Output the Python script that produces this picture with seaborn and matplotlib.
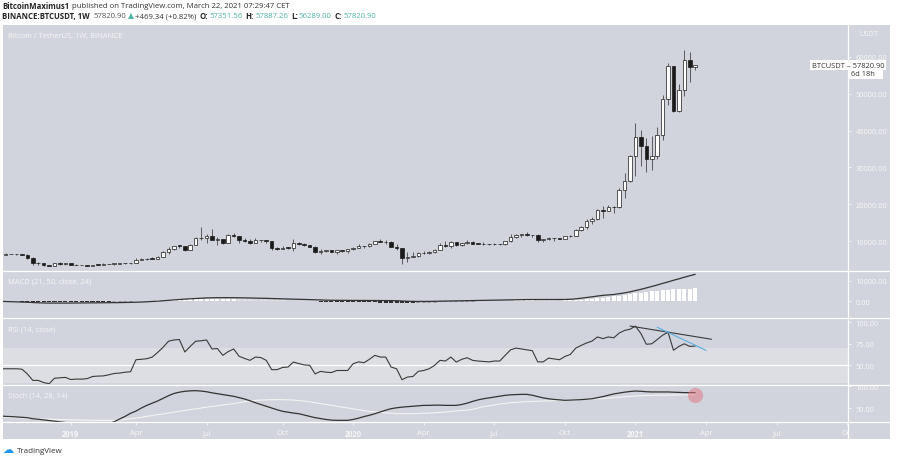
import matplotlib
matplotlib.use("Agg")
import matplotlib.pyplot as plt
from matplotlib.patches import Rectangle
from matplotlib.lines import Line2D
import numpy as np
import pandas as pd
import seaborn as sns

W, H = 898, 460

# weekly BTCUSDT candles, first bar = week of 2018-10-08
first_week = "2018-10-08"
opens = [6620, 6390, 6530, 6470, 6420, 6380, 5550, 4010, 4130, 3520,
         3250, 3970, 3850, 4040, 3540, 3540, 3530, 3410, 3660, 3610,
         3830, 3860, 3910, 3990, 3970, 4120, 5040, 5070, 5300, 5200,
         5710, 6970, 8000, 8740, 8730, 7640, 8990, 10850, 10800, 11480,
         10200, 10540, 9520, 11800, 11390, 10230, 10140, 9600, 10390, 10300,
         9990, 8050, 7870, 8280, 8220, 9550, 9200, 9030, 8500, 7050,
         7400, 7500, 7100, 7500, 7380, 7760, 8180, 8670, 8600, 9370,
         10150, 9900, 9660, 8530, 8030, 5360, 5820, 5880, 6770, 6900,
         7120, 7700, 8900, 8720, 9680, 8900, 9450, 9740, 9380, 9290,
         9120, 9230, 9300, 9160, 9940, 11100, 11680, 11850, 11650, 11660,
         10260, 10680, 10920, 10770, 10660, 11370, 11500, 13030, 13800, 15480,
         15960, 18410, 18180, 19370, 19280, 23780, 26440, 33000, 38150, 35790,
         32260, 33090, 38880, 48580, 57400, 45240, 50970, 59020, 57350]
highs = [6720, 6900, 6600, 6540, 6600, 6500, 5600, 4440, 4220, 3650,
         4210, 4240, 4100, 4100, 3800, 3650, 3540, 3680, 3720, 4200,
         3900, 3920, 4010, 4090, 4150, 5370, 5470, 5370, 5620, 5900,
         7450, 8370, 8800, 9090, 8820, 9350, 11200, 13970, 12000, 13200,
         11100, 10650, 12000, 12320, 11450, 10950, 10650, 10900, 10450, 10360,
         10050, 8520, 8800, 8400, 10550, 9900, 9500, 9100, 8600, 7850,
         7750, 7600, 7550, 7700, 7800, 8470, 9200, 8800, 9550, 10170,
         10500, 10200, 9970, 9190, 8180, 6950, 6990, 7200, 7470, 7300,
         7780, 9460, 10070, 9950, 9900, 9600, 10420, 9950, 9600, 9790,
         9350, 9500, 9320, 9950, 12000, 11900, 12000, 12470, 11750, 12090,
         10700, 11100, 10950, 10950, 11500, 11700, 13350, 14100, 15950, 16480,
         18800, 19420, 19900, 19440, 24300, 28400, 33300, 41950, 40100, 37850,
         38530, 40950, 49700, 58350, 57500, 52640, 61840, 61180, 57890]
lows = [6150, 6380, 6420, 6250, 6340, 5200, 3650, 3650, 3280, 3150,
        3230, 3550, 3650, 3500, 3490, 3450, 3370, 3370, 3560, 3600,
        3730, 3680, 3830, 3900, 3950, 4100, 4950, 5010, 5150, 5150,
        5610, 6600, 7500, 8100, 7440, 7600, 8900, 10300, 9620, 10800,
        9070, 9200, 9400, 11200, 9460, 9900, 9320, 9580, 9900, 9600,
        7700, 7710, 7780, 7900, 7300, 8900, 8700, 8450, 6800, 6500,
        7200, 6950, 6450, 7100, 6850, 7700, 8100, 8250, 8530, 9150,
        9700, 9300, 8400, 7650, 3780, 4450, 5680, 5850, 6500, 6460,
        6800, 7650, 8370, 8210, 8810, 8630, 9280, 9350, 9200, 8990,
        8890, 9050, 9050, 9100, 9880, 10930, 11150, 11450, 11250, 9880,
        9880, 10200, 10130, 10500, 10530, 11200, 11400, 12900, 13290, 14800,
        15780, 16200, 18100, 17600, 19000, 21800, 26000, 27730, 30420, 28850,
        29240, 32300, 37370, 47000, 44900, 44950, 49270, 53270, 56290]
closes = [6390, 6530, 6470, 6420, 6380, 5550, 4010, 4130, 3520, 3250,
          3970, 3850, 4040, 3540, 3540, 3530, 3410, 3660, 3610, 3830,
          3860, 3910, 3990, 3970, 4120, 5040, 5070, 5300, 5200, 5710,
          6970, 8000, 8740, 8730, 7640, 8990, 10850, 10800, 11480, 10200,
          10540, 9520, 11800, 11390, 10230, 10140, 9600, 10390, 10300, 9990,
          8050, 7870, 8280, 8220, 9550, 9200, 9030, 8500, 7050, 7400,
          7500, 7100, 7500, 7380, 7760, 8180, 8670, 8600, 9370, 10150,
          9900, 9660, 8530, 8030, 5360, 5820, 5880, 6770, 6900, 7120,
          7700, 8900, 8720, 9680, 8900, 9450, 9740, 9380, 9290, 9120,
          9230, 9300, 9160, 9940, 11100, 11680, 11850, 11650, 11660, 10260,
          10680, 10920, 10770, 10660, 11370, 11500, 13030, 13800, 15480, 15960,
          18410, 18180, 19370, 19280, 23780, 26440, 33000, 38150, 35790, 32260,
          33090, 38880, 48580, 57400, 45240, 50970, 59020, 57350, 57820]

# indicator readings, one per weekly bar
macd_line = [0, -80, -160, -250, -350, -450, -600, -720, -800, -850,
             -870, -870, -860, -840, -820, -800, -780, -760, -740, -720,
             -690, -660, -620, -580, -540, -450, -350, -220, -80, 80,
             280, 500, 720, 920, 1080, 1220, 1380, 1530, 1650, 1720,
             1760, 1780, 1780, 1760, 1720, 1670, 1620, 1560, 1500, 1440,
             1350, 1260, 1190, 1120, 1060, 990, 910, 820, 720, 630,
             560, 510, 480, 470, 460, 450, 440, 420, 410, 410,
             410, 390, 350, 290, 140, 40, -20, -60, -60, -30,
             20, 80, 140, 200, 250, 300, 350, 400, 440, 480,
             520, 560, 600, 650, 720, 790, 840, 860, 860, 840,
             820, 810, 820, 850, 900, 1000, 1200, 1500, 1850, 2200,
             2600, 2900, 3100, 3300, 3700, 4100, 4600, 5200, 5800, 6500,
             7200, 7900, 8700, 9400, 10200, 10900, 11700, 12400, 13100]
macd_hist = [-20, -40, -60, -80, -100, -120, -150, -180, -200, -220,
             -240, -260, -290, -320, -350, -380, -410, -440, -470, -500,
             -520, -450, -350, -250, -120, 50, 150, 250, 350, 450,
             550, 650, 750, 820, 860, 900, 940, 980, 1000, 1020,
             1040, 1060, 1100, 1120, 1050, 980, 900, 820, 740, 660,
             580, 500, 420, 350, 280, 210, 140, 70, -20, -100,
             -180, -250, -320, -380, -430, -470, -500, -520, -540, -560,
             -580, -600, -620, -640, -800, -900, -950, -880, -800, -720,
             -640, -560, -480, -400, -320, -250, -180, -120, -70, -30,
             -10, 20, 60, 150, 280, 420, 540, 620, 660, 600,
             520, 450, 400, 380, 420, 520, 650, 800, 1000, 1250,
             1550, 1850, 2150, 2450, 2800, 3150, 3500, 3850, 4200, 4500,
             4800, 5050, 5300, 5550, 5750, 5900, 6050, 6150, 6250]
rsi = [46, 46, 46, 46, 45.5, 40, 32.5, 32.5, 30, 28.6,
       35, 35.5, 36, 33.5, 34, 34, 34.5, 37, 37.5, 37.7,
       39, 40.5, 41, 42, 42.5, 56.5, 57, 57.7, 59.6, 65,
       71, 78, 79.5, 80, 65.5, 72, 78, 78.5, 79.5, 69,
       69.5, 61.6, 66, 69, 60.5, 58, 55.8, 59.6, 59, 55.8,
       45, 45, 47.5, 48, 53.8, 52, 50.5, 50, 40, 43,
       42, 41.6, 44, 44, 44, 51.9, 54, 53, 57, 61.6,
       59.6, 59.6, 48, 46, 33.3, 36.4, 37, 43, 44, 46,
       50, 55.8, 55, 59.6, 53.8, 57, 58.8, 55.8, 55, 54.5,
       54, 55, 55, 61.6, 68, 70, 69, 68, 67, 54,
       54, 58.4, 57.5, 56.5, 60.3, 62.6, 70, 73.2, 76, 78.2,
       83, 81, 83, 82, 87.5, 90.6, 92, 95.5, 87, 74.5,
       75, 80, 85, 88.4, 67.5, 72, 75, 72, 72.4]
stoch_k = [32, 31, 30.5, 29.7, 29, 28, 25.7, 24.5, 23, 21.5,
           20, 18.5, 17, 14, 11, 8, 6, 5, 6, 9,
           14, 19, 25, 31, 38, 43, 50, 56, 61, 66,
           72, 78, 83, 86, 88, 89, 89.4, 88.5, 87, 84.5,
           82.5, 80.5, 78.5, 76.6, 73.5, 70.5, 66.5, 62, 58, 54,
           50, 46, 42.5, 40.5, 38.5, 37, 34, 31, 28, 26,
           24, 22.5, 22, 22, 22, 24, 27, 30.5, 33.5, 37,
           41, 45, 48.5, 50.5, 52, 53, 54, 55, 56, 56,
           56.5, 56.5, 56, 56, 56, 58, 61, 65, 68.5, 71,
           73, 75, 77, 78.8, 80, 80.5, 81, 81, 79, 76,
           73, 71, 69.5, 68.5, 67.5, 68, 68.5, 69, 70, 71,
           73.5, 76, 79, 82, 84, 86, 87.5, 88.6, 88, 87,
           86.5, 86.4, 86.5, 86.5, 86, 85.5, 85, 85, 85]
stoch_d = [29.5, 29, 28.5, 28, 27, 26.5, 26, 25.5, 25, 24.5,
           24, 23.6, 23.4, 23, 22.7, 22.4, 22.2, 22, 22, 22,
           22, 22, 23, 24.3, 25.5, 27, 29, 31, 33, 35,
           36.5, 38.5, 40.5, 42.5, 44.5, 46.5, 48, 50, 52, 53.5,
           55, 57, 58.5, 60, 62, 64, 65.5, 67.5, 68, 68.5,
           69, 69, 69, 68.5, 68, 67, 65.5, 64, 62, 60,
           58, 56, 54, 52, 50, 48, 46, 44, 42.5, 41,
           40, 39, 38, 37, 37, 37, 37, 37.5, 38, 38.5,
           39, 40, 41, 42, 43.5, 44.5, 45, 47, 50, 53,
           55, 57, 59, 60.5, 62, 63, 63.6, 64.5, 65, 65.5,
           66, 66.5, 67, 67.3, 67.5, 68, 68.5, 69, 69.5, 70,
           71, 71.5, 72.5, 73.4, 74.5, 75.5, 76.5, 77, 78, 78.5,
           78.8, 79, 79.2, 79.5, 79.7, 79.8, 80, 80, 80]

# drawn RSI trend lines
rsi_trend_dates = ["2020-12-28", "2021-04-12"]
rsi_trend_vals = [95.7, 80.3]
rsi_trend2_dates = ["2021-02-01", "2021-04-05"]
rsi_trend2_vals = [94.2, 67.4]

price_ticks = [10000, 20000, 30000, 40000, 50000, 60000]
time_ticks = ["2019-01-07", "2019-04-01", "2019-07-01", "2019-10-07", "2020-01-06", "2020-04-06",
              "2020-07-06", "2020-10-05", "2021-01-04", "2021-04-05", "2021-07-05", "2021-10-04"]
time_labels = ["2019", "Apr", "Jul", "Oct", "2020", "Apr", "Jul", "Oct", "2021", "Apr", "Jul", "Oct"]

BG = "#d1d4dc"
BAND = "#dcdee3"
INK = "#222222"
TEAL = "#4fb3a6"
LABEL = "#f7f7f7"

sns.set_theme(style="white")
plt.rcParams["font.family"] = ["Open Sans", "DejaVu Sans"]

dates = pd.date_range(first_week, periods=len(closes), freq="7D")
df = pd.DataFrame({"date": dates, "open": opens, "high": highs, "low": lows, "close": closes,
                   "macd": macd_line, "hist": macd_hist, "rsi": rsi, "k": stoch_k, "d": stoch_d})

fig = plt.figure(figsize=(W / 100, H / 100), dpi=100)


def box(left, top, right, bottom):
    return [left / W, 1 - bottom / H, (right - left) / W, (bottom - top) / H]


def px(x, y):
    return x / W, 1 - y / H


fig.add_artist(Rectangle(px(3, 440), 887 / W, 414 / H, transform=fig.transFigure,
                         facecolor=BG, edgecolor="none", zorder=-1))

ax_p = fig.add_axes(box(3, 26, 848, 271))
ax_m = fig.add_axes(box(3, 272, 848, 318), sharex=ax_p)
ax_r = fig.add_axes(box(3, 319, 848, 385), sharex=ax_p)
ax_s = fig.add_axes(box(3, 386, 848, 423), sharex=ax_p)

x_left = dates[0] + pd.Timedelta(days=3.6)
x_right = dates[0] + pd.Timedelta(days=1093)

for ax in (ax_p, ax_m, ax_r, ax_s):
    ax.set_facecolor("none")
    for sp in ax.spines.values():
        sp.set_visible(False)
    ax.yaxis.tick_right()
    ax.tick_params(axis="y", colors=LABEL, labelsize=5.3, length=2.5, width=0.6, pad=3)
    ax.tick_params(axis="x", bottom=False, labelbottom=False)
    ax.grid(False)

# candles
up = df["close"] >= df["open"]
ax_p.vlines(df["date"], df["low"], df["high"], color="#3a3a3a", linewidth=0.55, zorder=2)
body_bottom = np.minimum(df["open"], df["close"])
body_h = np.maximum((df["close"] - df["open"]).abs(), 120)
ax_p.bar(df["date"], body_h, bottom=body_bottom, width=4.6,
         color=np.where(up, "white", "#1a1a1a"), edgecolor="#1a1a1a", linewidth=0.5, zorder=3)
ax_p.set_ylim(2200, 68600)
ax_p.set_yticks(price_ticks)
ax_p.set_yticklabels([f"{v:.2f}" for v in price_ticks])
ax_p.set_xlim(x_left, x_right)

# MACD
hist = df["hist"].to_numpy()
rising = np.diff(hist, prepend=hist[0]) >= 0
hist_colors = np.where(hist >= 0, np.where(rising, "#ffffff", "#e2e3e7"),
                       np.where(rising, "#9c9ea4", "#2e2e2e"))
ax_m.bar(df["date"], hist, width=5.2, color=hist_colors, linewidth=0, zorder=2)
sns.lineplot(data=df, x="date", y="macd", ax=ax_m, color="#333333", linewidth=0.9, zorder=3)
ax_m.set_ylim(-7600, 14700)
ax_m.set_yticks([0, 10000])
ax_m.set_yticklabels(["0.00", "10000.00"])

# RSI
ax_r.axhspan(30, 70, color=BAND, linewidth=0, zorder=0)
ax_r.axhline(50, color="white", linewidth=0.9, zorder=1)
sns.lineplot(data=df, x="date", y="rsi", ax=ax_r, color="#3a3a3a", linewidth=0.8, zorder=3)
ax_r.plot(pd.to_datetime(rsi_trend_dates), rsi_trend_vals, color="#3a3a3a", linewidth=0.8, zorder=4)
ax_r.plot(pd.to_datetime(rsi_trend2_dates), rsi_trend2_vals, color="#5aaee6", linewidth=0.8, zorder=4)
ax_r.set_ylim(28.3, 105)
ax_r.set_yticks([50, 75, 100])
ax_r.set_yticklabels(["50.00", "75.00", "100.00"])

# Stoch
sns.lineplot(data=df, x="date", y="d", ax=ax_s, color="#f4f4f4", linewidth=0.8, zorder=2)
sns.lineplot(data=df, x="date", y="k", ax=ax_s, color="#333333", linewidth=0.9, zorder=3)
ax_s.scatter(df["date"].iloc[-1:], [79.5], s=120, color="#e07a86", alpha=0.55, linewidths=0, zorder=5)
ax_s.set_ylim(18.2, 102.3)
ax_s.set_yticks([50, 100])
ax_s.set_yticklabels(["50.00", "100.00"])

ax_s.set_xticks(pd.to_datetime(time_ticks))
ax_s.set_xticklabels(time_labels)
ax_s.tick_params(axis="x", bottom=True, labelbottom=True, colors=LABEL, labelsize=5.5,
                 length=2.5, width=0.6, pad=2.5)
for lab in ax_s.get_xticklabels():
    if lab.get_text().isdigit():
        lab.set_fontweight("bold")

for ax in (ax_p, ax_m, ax_r, ax_s):
    ax.set_xlabel("")
    ax.set_ylabel("")
ax_p.set_xlim(x_left, x_right)

# panel separators and price-scale border
fig.add_artist(Rectangle(px(848.5, 440), 41.5 / W, 16.5 / H, transform=fig.transFigure,
                         facecolor=BG, edgecolor="none", zorder=5))
for y in (271.5, 318.5, 385.5, 423):
    fig.add_artist(Line2D([3 / W, 890 / W], [1 - y / H] * 2, transform=fig.transFigure,
                          color="white", linewidth=0.9, zorder=6))
fig.add_artist(Line2D([848 / W] * 2, [1 - 26 / H, 1 - 440 / H], transform=fig.transFigure,
                      color="white", linewidth=0.9, zorder=6))

# texts
fs = 5.4
fig.text(*px(8, 36.5), "Bitcoin / TetherUS, 1W, BINANCE", color=LABEL, fontsize=fs, va="center")
fig.text(*px(8, 282.5), "MACD (21, 50, close, 24)", color=LABEL, fontsize=fs, va="center")
fig.text(*px(8, 330), "RSI (14, close)", color=LABEL, fontsize=fs, va="center")
fig.text(*px(8, 396), "Stoch (14, 28, 14)", color=LABEL, fontsize=fs, va="center")
fig.text(*px(869, 35), "USDT", color=LABEL, fontsize=fs, ha="center", va="center")

fig.text(*px(812, 66), "BTCUSDT \u2013 57820.90", color="#333333", fontsize=fs, va="center", zorder=7,
         bbox=dict(facecolor="white", edgecolor="none", pad=1.2))
fig.text(*px(851, 74.5), "6d 18h   ", color="#333333", fontsize=fs, va="center", zorder=7,
         bbox=dict(facecolor="white", edgecolor="none", pad=1.2))

renderer = fig.canvas.get_renderer()


def text_row(y, parts, x=2, size=5.55):
    # lay segments out one after another, as the header does
    for s, c, w, gap in parts:
        t = fig.text(*px(x, y), s, color=c, fontsize=size, fontweight=w, va="center")
        x += t.get_window_extent(renderer=renderer).width + gap


text_row(6.5, [("BitcoinMaximus1", INK, "bold", 2.5),
               ("published on TradingView.com, March 22, 2021 07:29:47 CET", "#333333", "normal", 0)])
text_row(16.5, [("BINANCE:BTCUSDT, 1W", INK, "bold", 4), ("57820.90", "#555555", "normal", 1.5),
                ("\u25b2", TEAL, "normal", 1.5), ("+469.34 (+0.82%)", "#333333", "normal", 3),
                ("O:", INK, "bold", 1), ("57351.56", TEAL, "normal", 3),
                ("H:", INK, "bold", 1), ("57887.26", TEAL, "normal", 3),
                ("L:", INK, "bold", 1), ("56289.00", TEAL, "normal", 3),
                ("C:", INK, "bold", 1), ("57820.90", TEAL, "normal", 0)])

fig.text(*px(2, 450), "\u2601", color="#2196f3", fontsize=8, va="center")
fig.text(*px(17, 451.5), "TradingView", color="#333333", fontsize=5.8, va="center")

fig.savefig("out.png", dpi=100, facecolor="white")
